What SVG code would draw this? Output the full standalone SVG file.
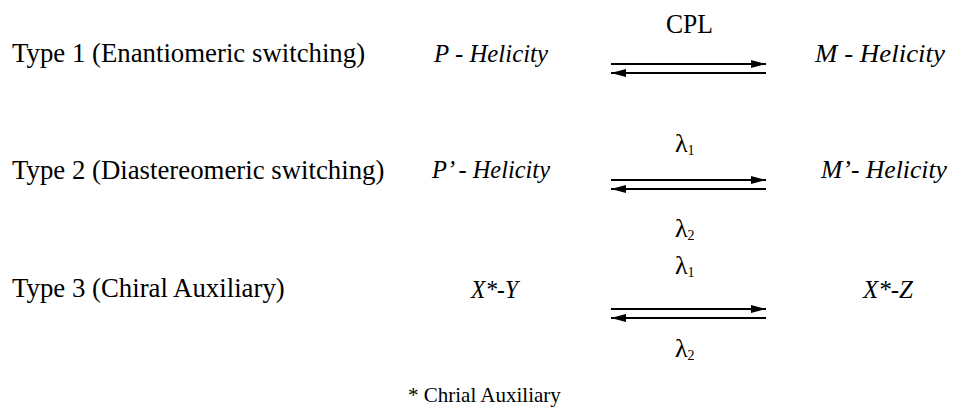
<svg xmlns="http://www.w3.org/2000/svg" width="953" height="408" viewBox="0 0 953 408">
<style>
text{font-family:"Liberation Serif","Times New Roman",serif;fill:#000}
.t{font-size:26.8px}
.i{font-size:25px;font-style:italic}
.l{font-size:26px}
.s{font-size:14px}
.f{font-size:21px}
.a{stroke:#000;stroke-width:2;fill:none}
</style>
<defs>
<marker id="ah" viewBox="0 0 15 8" refX="15" refY="4" markerWidth="15" markerHeight="8" markerUnits="userSpaceOnUse" orient="auto">
<path d="M0,0 L15,4 L0,8 Z" fill="#000"/>
</marker>
</defs>
<g id="labels">
<text class="t" x="12" y="62">Type 1 (Enantiomeric switching)</text>
<text class="t" x="12" y="179">Type 2 (Diastereomeric switching)</text>
<text class="t" x="12" y="297">Type 3 (Chiral Auxiliary)</text>
</g>
<g id="node-p"><text class="i" x="434" y="62" textLength="114" lengthAdjust="spacingAndGlyphs">P - Helicity</text></g>
<g id="node-m"><text class="i" x="815" y="62" textLength="130" lengthAdjust="spacingAndGlyphs">M - Helicity</text></g>
<g id="node-p2"><text class="i" x="432" y="178" textLength="118" lengthAdjust="spacingAndGlyphs">P’ - Helicity</text></g>
<g id="node-m2"><text class="i" x="821" y="178" textLength="126" lengthAdjust="spacingAndGlyphs">M’- Helicity</text></g>
<g id="node-xy"><text class="i" x="471" y="298" textLength="47" lengthAdjust="spacingAndGlyphs">X*-Y</text></g>
<g id="node-xz"><text class="i" x="863" y="298" textLength="50" lengthAdjust="spacingAndGlyphs">X*-Z</text></g>
<g id="connectors">
<line class="a" x1="611" y1="64" x2="766" y2="64" marker-end="url(#ah)"/>
<line class="a" x1="766" y1="73" x2="611" y2="73" marker-end="url(#ah)"/>
<line class="a" x1="611" y1="180" x2="766" y2="180" marker-end="url(#ah)"/>
<line class="a" x1="766" y1="189" x2="611" y2="189" marker-end="url(#ah)"/>
<line class="a" x1="611" y1="309" x2="766" y2="309" marker-end="url(#ah)"/>
<line class="a" x1="766" y1="318" x2="611" y2="318" marker-end="url(#ah)"/>
<text class="t" x="666" y="33" textLength="47" lengthAdjust="spacingAndGlyphs">CPL</text>
<text class="l" x="675" y="152">λ<tspan class="s" dy="3">1</tspan></text>
<text class="l" x="675" y="237">λ<tspan class="s" dy="3">2</tspan></text>
<text class="l" x="675" y="274">λ<tspan class="s" dy="3">1</tspan></text>
<text class="l" x="675" y="357">λ<tspan class="s" dy="3">2</tspan></text>
</g>
<g id="footnote"><text class="f" x="408" y="402">* Chrial Auxiliary</text></g>
</svg>
